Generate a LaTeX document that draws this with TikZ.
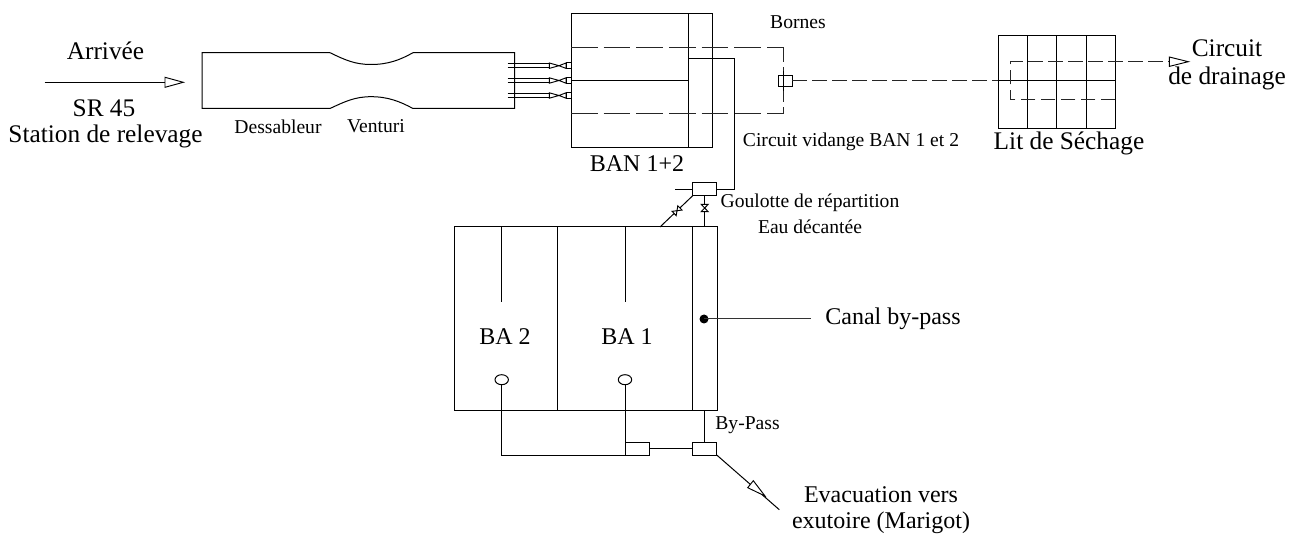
\documentclass[tikz,border=0pt]{standalone}
\usepackage{fontspec}
\setmainfont{Liberation Serif}
\tikzset{
 ln/.style={draw=black,line width=0.75pt},
 dsha/.style={draw=black!85,line width=0.75pt,dash pattern=on 20pt off 4.5pt},
 dshb/.style={draw=black!85,line width=0.75pt,dash pattern=on 11pt off 4pt},
 lbl/.style={inner sep=0pt,align=center,text=black},
 big/.style={lbl,font=\fontsize{19}{19}\selectfont},
 mid/.style={lbl,font=\fontsize{18}{18}\selectfont},
 small/.style={lbl,font=\fontsize{14.7}{14.7}\selectfont},
 box/.style={draw=black,line width=0.75pt,fill=white},
 tip/.style={draw=black,line width=0.7pt,fill=white}
}
\begin{document}
\begin{tikzpicture}[x=0.75pt,y=-0.75pt]
\useasboundingbox (0,0) rectangle (1300,538);
\fill[white] (0,0) rectangle (1300,538);
% arrival
\draw[ln] (44.7,82.3) -- (165,82.3);
\draw[tip] (165,77.3) -- (183.3,82.3) -- (165,87.3) -- cycle;
% dessableur
\draw[ln] (202,52.7) -- (330,52.7) .. controls (345,60) and (355,64.5) .. (371,64.5) .. controls (388,64.5) and (400,60) .. (413,52.7) -- (514.7,52.7) -- (514.7,108.5) -- (413,108.5) .. controls (400,101.5) and (388,96.7) .. (371,96.7) .. controls (355,96.7) and (345,101.5) .. (330,108.5) -- (202,108.5) -- cycle;
% pipes
\foreach \y in {65.7,80.5,95.5}{
 \draw[ln] (507.7,\y-2.2) -- (549.3,\y-2.2);
 \draw[ln] (507.7,\y+2.2) -- (549.3,\y+2.2);
 \draw[tip] (549.3,\y-2.7) -- (559,\y) -- (549.3,\y+2.7) -- cycle;
 \draw[tip] (566,\y-2.7) -- (559,\y) -- (566,\y+2.7) -- cycle;
 \draw[ln] (566,\y-2.7) rectangle (571,\y+2.7);
}
% BAN
\draw[ln] (571,13.7) rectangle (712.3,147.7);
\draw[ln] (688.3,13.7) -- (688.3,147.7);
\draw[ln] (571,80.5) -- (688.3,80.5);
\draw[dsha] (571,47.3) -- (783,47.3);
\draw[dsha] (571,114) -- (783,114);
\draw[dshb] (783,47.3) -- (783,114);
\draw[ln] (688.3,58.7) -- (734.3,58.7) -- (734.3,189.3) -- (716.7,189.3);
\draw[box] (778.3,75.3) rectangle (792.3,86.7);
\draw[ln] (783,71) -- (783,91);
% lit
\draw[ln] (998,35.3) rectangle (1115.3,128.7);
\foreach \x in {1027.3,1056.7,1086}{\draw[ln] (\x,35.3) -- (\x,128.7);}
\draw[ln] (998,80.7) -- (1115.3,80.7);
\draw[dshb] (792.3,80.7) -- (998,80.7);
\draw[dshb] (1115.3,99.7) -- (1010.7,99.7) -- (1010.7,61.7) -- (1169.3,61.7);
\draw[tip] (1169.3,57) -- (1188.3,61.7) -- (1169.3,66.4) -- cycle;
% goulotte
\draw[ln] (675,189.3) -- (692.7,189.3);
\draw[box] (692.7,182.7) rectangle (716.7,195.7);
\draw[ln] (692.7,195.7) -- (660,227);
\draw[ln] (704.7,195.7) -- (704.7,227);
\draw[tip] (701.2,204.3) -- (708.2,204.3) -- (701.2,211.7) -- (708.2,211.7) -- cycle;
\draw[tip,shift={(677,210.7)},rotate=44] (-4,-3) -- (4,3) -- (4,-3) -- (-4,3) -- cycle;
% BA block
\draw[ln] (454,227) rectangle (717.3,410.7);
\draw[ln] (557.7,227) -- (557.7,410.7);
\draw[ln] (692.7,227) -- (692.7,410.7);
\draw[ln] (501.7,227) -- (501.7,302);
\draw[ln] (625,227) -- (625,302);
\draw[ln] (501.7,384.7) -- (501.7,455) -- (625,455) -- (625,384.7);
\draw[ln,fill=white] (501.7,379.7) ellipse (6.7 and 5);
\draw[ln,fill=white] (625,379.7) ellipse (6.7 and 5);
\draw[box] (625,442) rectangle (649.7,455);
\draw[box] (692.7,442) rectangle (716.7,455);
\draw[ln] (649.7,448.7) -- (692.7,448.7);
\draw[ln] (704.7,410.7) -- (704.7,442);
\draw[ln] (716.7,455) -- (779.3,509.7);
\draw[tip] (747.7,487.7) -- (753.3,480.7) -- (765,496) -- cycle;
\fill[black] (704,319) circle (4.5);
\draw[ln,draw=black!80] (704,319) -- (811,319);
% labels
\node[big] at (105.5,51) {Arrivée};
\node[big] at (104,108) {SR 45};
\node[big] at (105.5,136) {Station de relevage};
\node[small] at (278,126.5) {Dessableur};
\node[small] at (376,126.5) {Venturi};
\node[mid] at (637,164) {BAN 1+2};
\node[small] at (798,22) {Bornes};
\node[small] at (851,142) {Circuit vidange BAN 1 et 2};
\node[small] at (810,203) {Goulotte de répartition};
\node[small] at (810,227) {Eau décantée};
\node[big] at (1069,143.5) {Lit de Séchage};
\node[big] at (1227,48.5) {Circuit};
\node[big] at (1227,78.5) {de drainage};
\node[mid] at (505,337) {BA 2};
\node[mid] at (627,337) {BA 1};
\node[mid] at (893,319) {Canal by-pass};
\node[small] at (747.5,425.5) {By-Pass};
\node[mid] at (881,495) {Evacuation vers};
\node[mid] at (881,523) {exutoire (Marigot)};
\end{tikzpicture}
\end{document}
